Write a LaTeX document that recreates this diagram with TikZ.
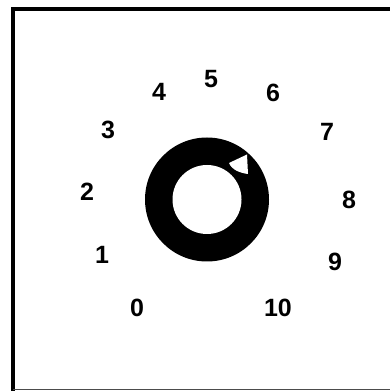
\documentclass[tikz,border=0pt]{standalone}
\usepackage{fontspec}
\setmainfont{Liberation Sans}
\begin{document}
\begin{tikzpicture}[x=1pt,y=1pt,
  lbl/.style={font=\fontsize{25}{25}\selectfont\bfseries, inner sep=0pt}]
\useasboundingbox (0,0) rectangle (389,391);
% frame
\draw[line width=4.5pt] (392,382) -- (13,382) -- (13,-2);
\draw[line width=1.2pt, black!70] (13,1.5) -- (392,1.5);
% knob
\coordinate (c) at (207,191.5);
\fill[black] (c) circle[radius=62];
\fill[white] (c) circle[radius=34.5];
\fill[white] (229,228) -- (247,236.5) -- (248,217) .. controls (240,218) and (232,221) .. (229,228) -- cycle;
% labels
\node[lbl] (l0) at (137,83) {0};
\node[lbl] (l1) at (102,136) {1};
\node[lbl] (l2) at (87,199) {2};
\node[lbl] (l3) at (108,261) {3};
\node[lbl] (l4) at (159,299) {4};
\node[lbl] (l5) at (211,312) {5};
\node[lbl] (l6) at (273,298) {6};
\node[lbl] (l7) at (327,259) {7};
\node[lbl] (l8) at (349,191) {8};
\node[lbl] (l9) at (335,129) {9};
\node[lbl] (l10) at (278,83) {10};
\end{tikzpicture}
\end{document}
